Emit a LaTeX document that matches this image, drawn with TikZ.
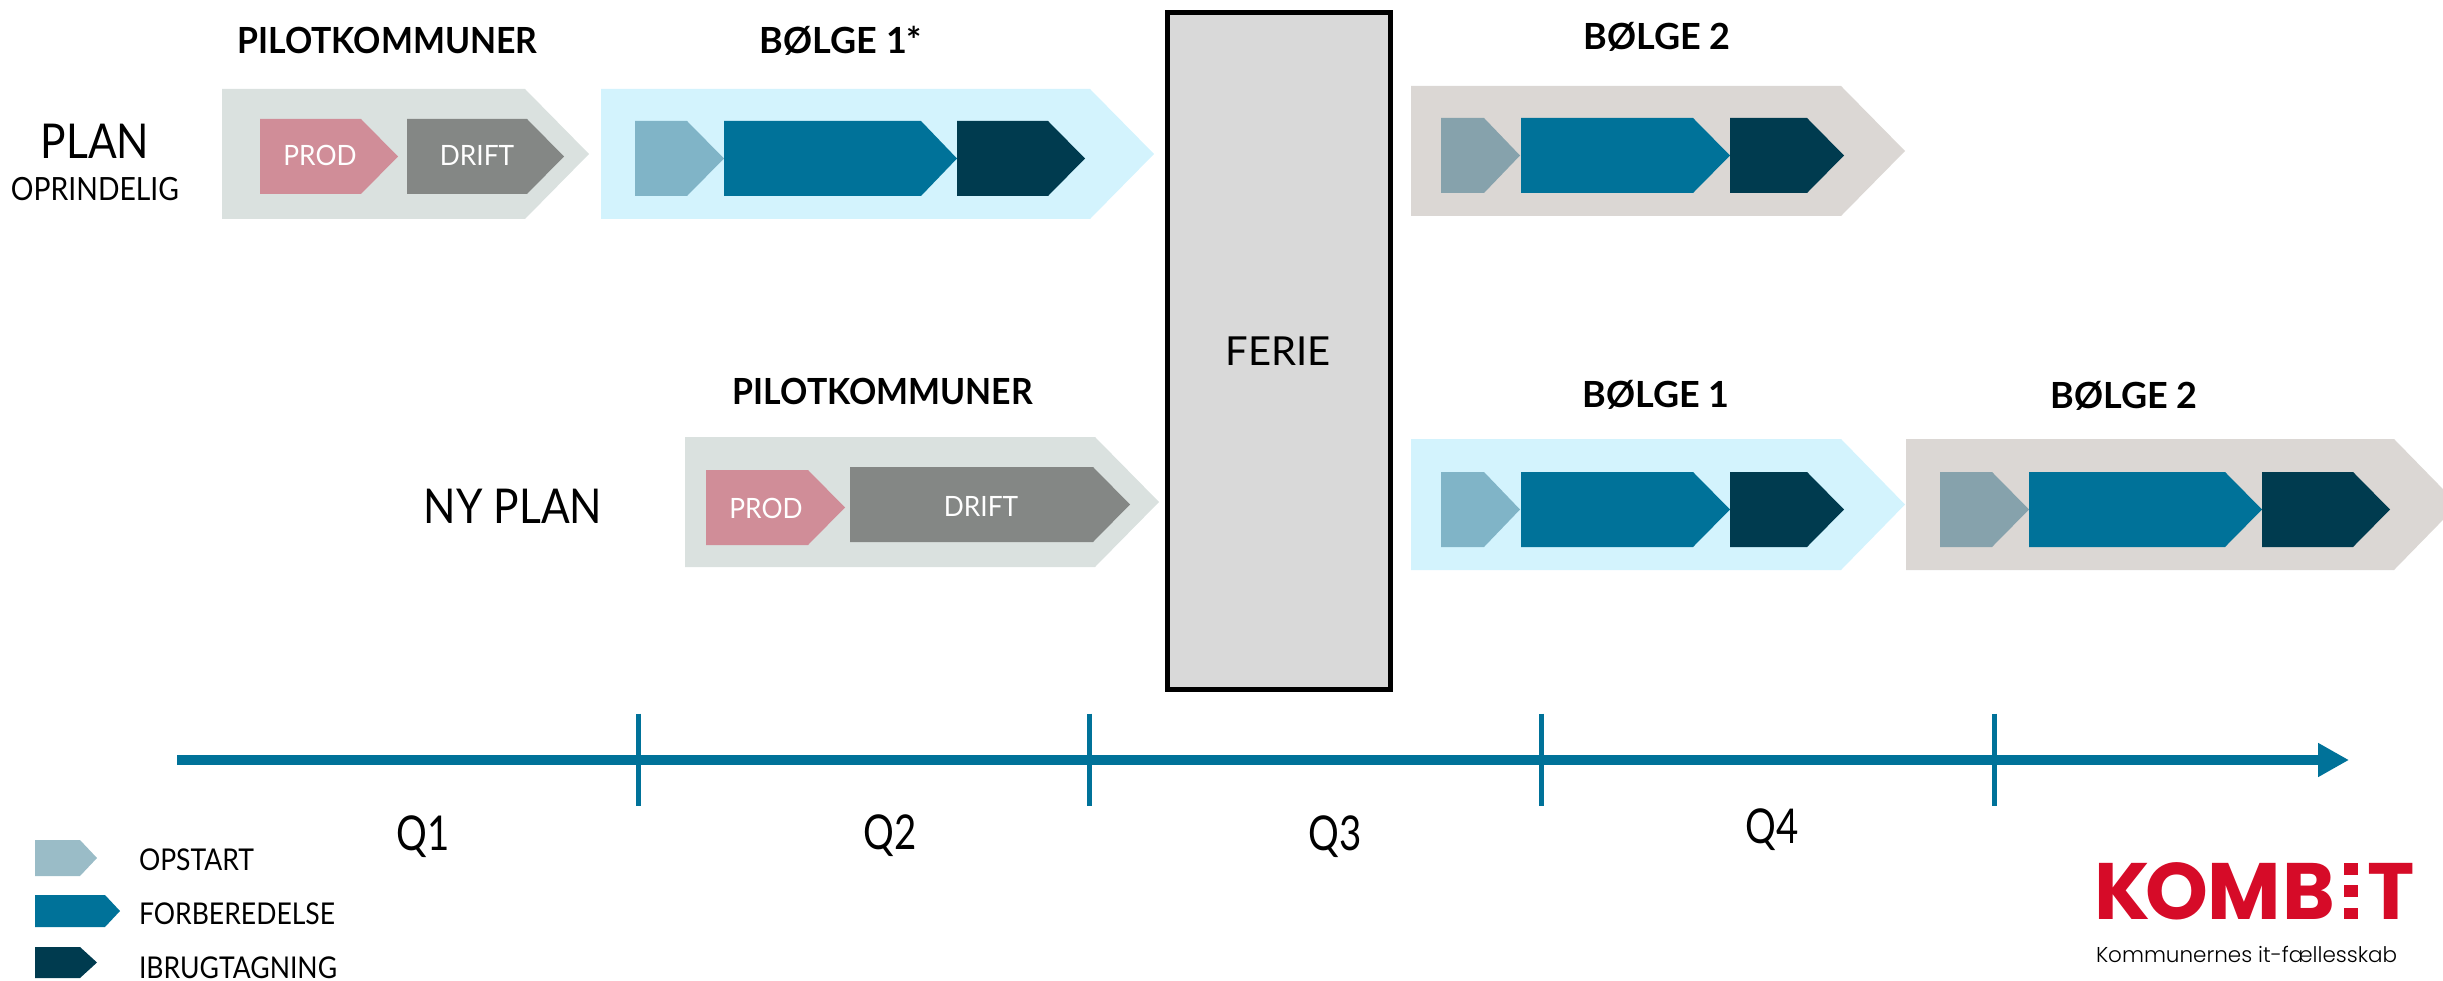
\documentclass[tikz,border=0pt]{standalone}
\usepackage{fontspec}
\setmainfont{Lato}
\newfontfamily\headfont{Lato}[FakeStretch=0.94]
\newfontfamily\planfont{Lato}[FakeStretch=0.885]
\newfontfamily\quarterfont{Lato}[FakeStretch=0.8]
\newfontfamily\logofont{Poppins}[UprightFont=* Bold]
\newfontfamily\tagfont{Poppins}[UprightFont=* Light]
\usetikzlibrary{arrows.meta}
\definecolor{pilotbg}{HTML}{DAE1DF}
\definecolor{prodpink}{HTML}{D08D98}
\definecolor{driftgrey}{HTML}{848785}
\definecolor{waveone}{HTML}{D3F3FD}
\definecolor{wavetwo}{HTML}{DBD7D4}
\definecolor{startone}{HTML}{80B4C7}
\definecolor{starttwo}{HTML}{86A2AC}
\definecolor{startkey}{HTML}{9ABCC7}
\definecolor{prepblue}{HTML}{007299}
\definecolor{golive}{HTML}{003B4F}
\definecolor{holiday}{HTML}{D9D9D9}
\definecolor{logored}{HTML}{D60B28}
\newcommand{\fs}[1]{\fontsize{#1}{#1}\selectfont}
\tikzset{
  lbl/.style={anchor=base,inner sep=0pt,outer sep=0pt},
  wavehead/.style={lbl,font=\fs{36}\bfseries},
  pilothead/.style={lbl,font=\headfont\fs{36}\bfseries},
  planlabel/.style={lbl,font=\planfont\fs{48}},
  quarter/.style={lbl,font=\quarterfont\fs{48}},
  inarrow/.style={lbl,text=white,font=\headfont\fs{28}},
  keylabel/.style={lbl,anchor=base west,font=\planfont\fs{30}},
  logoletter/.style={lbl,text=logored,font=\logofont\fs{80}},
  axisline/.style={draw=prepblue,line width=10.5pt,-{Triangle[length=31pt,width=32pt]}},
  tickline/.style={draw=prepblue,line width=5pt}
}
\begin{document}
\begin{tikzpicture}[x=1pt,y=-1pt]
	\clip (0,0) rectangle (2443,981);

	% left end, body end, tip, top, bottom, colour
	\foreach \xa/\xb/\xc/\ya/\yb/\col in {
		222/525/589/89/219/pilotbg,
		601/1090/1154/89/219/waveone,
		1411/1841/1905/86/216/wavetwo,
		685/1095/1159/437/567/pilotbg,
		1411/1841/1905/439/570/waveone,
		1906/2394/2458/439/570/wavetwo,
		260/361/398/119/194/prodpink,
		407/527/564/119/194/driftgrey,
		706/808/845/470/545/prodpink,
		850/1093/1130/467/542/driftgrey,
		635/687/724/121/196/startone,
		724/921/957/121/196/prepblue,
		957/1048/1085/121/196/golive,
		1441/1484/1520/118/193/starttwo,
		1521/1693/1730/118/193/prepblue,
		1730/1807/1844/118/193/golive,
		1441/1484/1520/472/547/startone,
		1521/1693/1730/472/547/prepblue,
		1730/1807/1844/472/547/golive,
		1940/1992/2029/472/547/starttwo,
		2029/2225/2262/472/547/prepblue,
		2262/2353/2390/472/547/golive,
		35/80/97/840/876/startkey,
		35/105/120/895/927/prepblue,
		35/80/97/947/978/golive}{
		\fill[\col] (\xa,\ya) -- (\xb,\ya) -- (\xc,{(\ya+\yb)/2}) -- (\xb,\yb) -- (\xa,\yb) -- cycle;
	}

	\draw[fill=holiday,line width=5pt] (1167,13) rectangle (1390,689);
	\node[lbl,font=\fs{40}] (ferie) at (1278,365.5) {FERIE};

	\node[pilothead] (pilotold) at (387.5,54) {PILOTKOMMUNER};
	\node[wavehead] (waveoneold) at (841,54) {BØLGE 1*};
	\node[wavehead] (wavetwoold) at (1657,50) {BØLGE 2};
	\node[pilothead] (pilotnew) at (883,404) {PILOTKOMMUNER};
	\node[wavehead] (waveonenew) at (1656,407) {BØLGE 1};
	\node[wavehead] (wavetwonew) at (2124,408) {BØLGE 2};

	\node[planlabel] (planold) at (95,159) {PLAN};
	\node[lbl,font=\planfont\fs{32}] (oprindelig) at (95,201) {OPRINDELIG};
	\node[planlabel] (plannew) at (513,523) {NY PLAN};

	\node[inarrow] (prodold) at (320,166) {PROD};
	\node[inarrow] (driftold) at (477,166) {DRIFT};
	\node[inarrow] (prodnew) at (766,518) {PROD};
	\node[inarrow] (driftnew) at (981,516) {DRIFT};

	% time line
	\coordinate (axstart) at (177,760);
	\coordinate (axend) at (2349,760);
	\draw[axisline] (axstart) -- (axend);
	\foreach \tx in {638,1089,1541,1994}{
		\coordinate (tick\tx a) at (\tx,713.5);
		\coordinate (tick\tx b) at (\tx,805.5);
		\draw[tickline] (tick\tx a) -- (tick\tx b);
	}
	\node[quarter] (qone) at (423,850) {Q1};
	\node[quarter] (qtwo) at (890,849) {Q2};
	\node[quarter] (qthree) at (1335,850) {Q3};
	\node[quarter] (qfour) at (1772,843) {Q4};

	\node[keylabel] (keystart) at (139,870) {OPSTART};
	\node[keylabel] (keyprep) at (139,924) {FORBEREDELSE};
	\node[keylabel] (keylive) at (139,978.5) {IBRUGTAGNING};

	% logo
	\node[logoletter] (logok) at (2122,919) {K};
	\node[logoletter] (logoo) at (2177,919) {O};
	\node[logoletter] (logom) at (2244,919) {M};
	\node[logoletter] (logob) at (2309,919) {B};
	\node[logoletter] (logot) at (2391,919) {T};
	\foreach \ya/\yb in {863/875,885/897,908/919}{
		\fill[logored] (2344,\ya) rectangle (2358,\yb);
	}
	\node[lbl,anchor=base west,font=\tagfont\fs{21.5}] (logotag) at (2096,962) {Kommunernes it-fællesskab};
\end{tikzpicture}
\end{document}
